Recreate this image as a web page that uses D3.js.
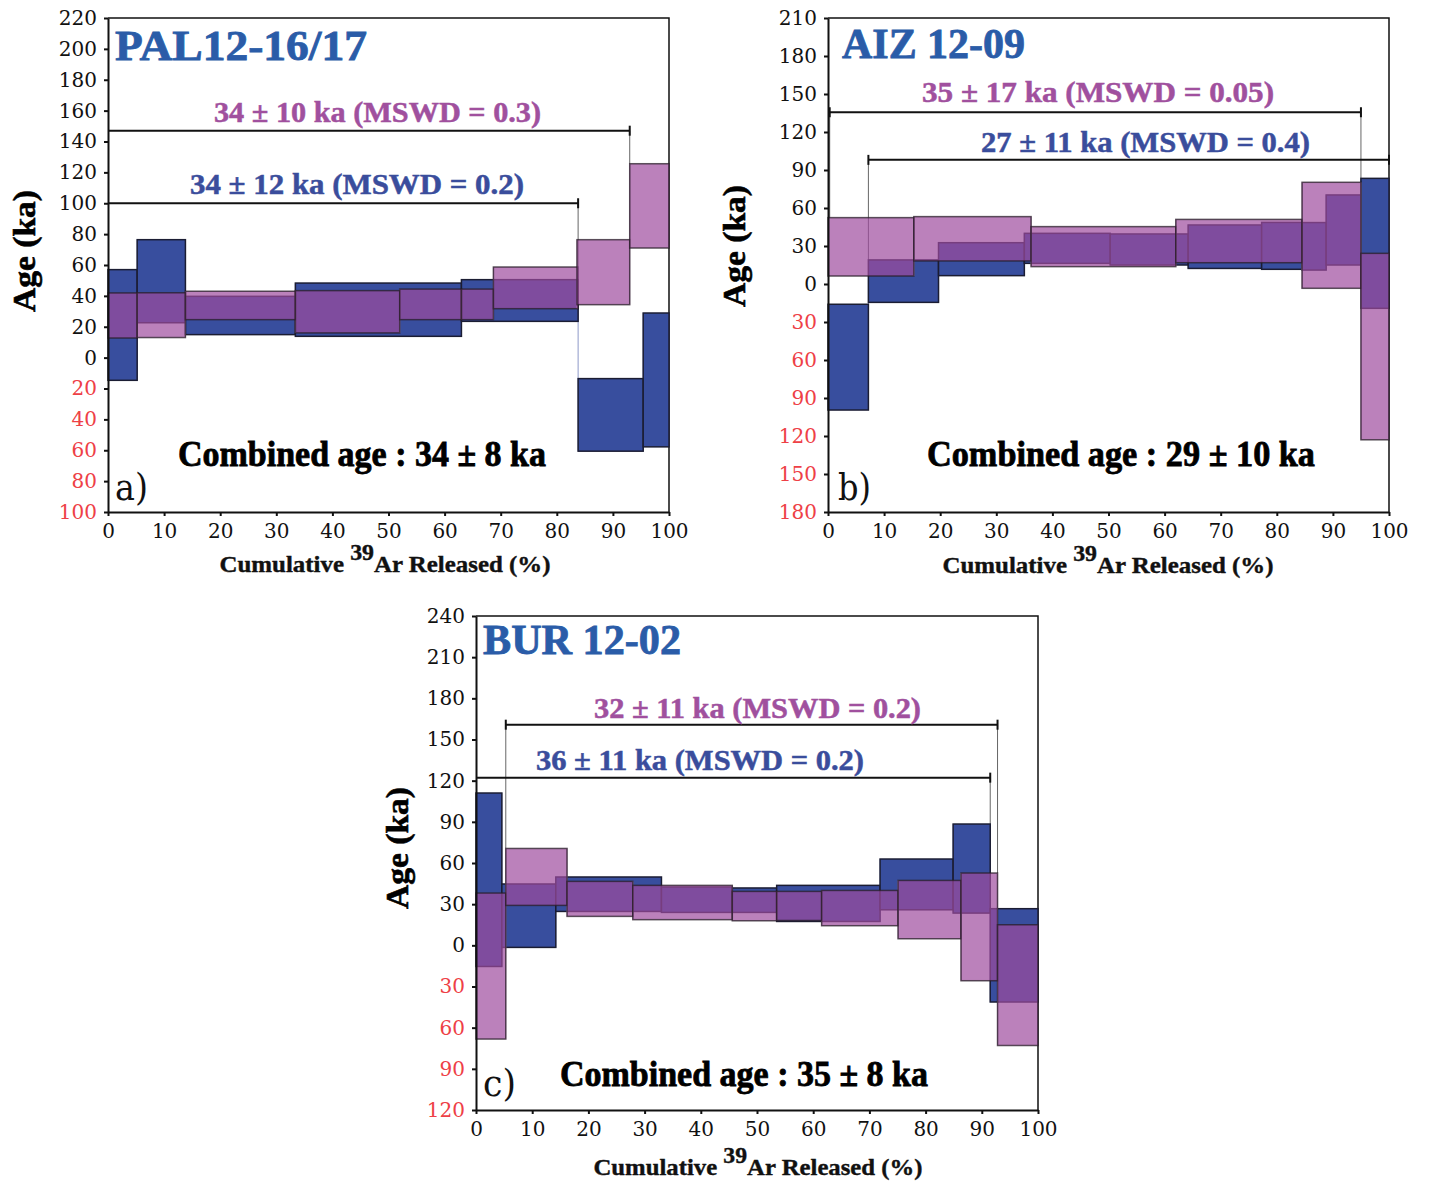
<!DOCTYPE html>
<html>
<head>
<meta charset="utf-8">
<script src="https://cdn.jsdelivr.net/npm/d3@7/dist/d3.min.js"></script>
<style>
body { margin: 0; background: #fff; }
</style>
</head>
<body>
<svg id="chart" width="1430" height="1181"></svg>
<script>
// ---- data ----
// steps: [cumStart %, cumEnd %, age low (ka), age high (ka)]
var xTicks = [0, 10, 20, 30, 40, 50, 60, 70, 80, 90, 100];

var yTicksA = [-100, -80, -60, -40, -20, 0, 20, 40, 60, 80, 100, 120, 140, 160, 180, 200, 220];
var yTicksB = [-180, -150, -120, -90, -60, -30, 0, 30, 60, 90, 120, 150, 180, 210];
var yTicksC = [-120, -90, -60, -30, 0, 30, 60, 90, 120, 150, 180, 210, 240];

var blueA = [
    [0, 5.2, -14.7, 57],
    [5.2, 13.8, 22.6, 76.4],
    [13.8, 33.4, 14.9, 39.7],
    [33.4, 63, 13.8, 48.3],
    [63, 83.8, 23.5, 50.5],
    [83.8, 95.4, -60.6, -13.6],
    [95.4, 100, -57.8, 28.9]
];
var pinkA = [
    [0, 5.2, 12.7, 41.9],
    [5.2, 13.8, 13, 42],
    [13.8, 33.4, 24.6, 43],
    [33.4, 52, 16, 43.4],
    [52, 63, 24.6, 44.4],
    [63, 68.7, 24.6, 44.4],
    [68.7, 83.8, 31.7, 58.7],
    [83.6, 93, 34.3, 76.4],
    [93, 100, 71, 125.6]
];

var blueB = [
    [0, 7.2, -99.5, -16],
    [7.2, 19.7, -14.5, 19],
    [19.7, 35, 6.6, 32.6],
    [35, 50.3, 16.3, 40],
    [50.3, 64.2, 15, 39.5],
    [64.2, 77.3, 12.3, 46.6],
    [77.3, 84.5, 11.6, 48.6],
    [84.5, 88.8, 11, 48.5],
    [88.8, 95, 15, 70.3],
    [95, 100, -19.2, 83.4]
];
var pinkB = [
    [0, 15.3, 6.3, 52.4],
    [15.3, 36.2, 18.2, 53.2],
    [36.2, 62, 13.7, 45.3],
    [62, 84.5, 16.8, 51],
    [84.5, 95, -3.4, 80.3],
    [95, 100, -123, 24.2]
];

var blueC = [
    [0, 4.6, -15.4, 111],
    [4.6, 14.2, -1.5, 44.7],
    [14.2, 33, 24.7, 49.8],
    [33, 45.6, 24, 42.5],
    [45.6, 53.5, 24, 41.8],
    [53.5, 71.9, 17.4, 43.7],
    [71.9, 84.9, 25.9, 62.9],
    [84.9, 91.5, 23.5, 88.4],
    [91.5, 100, -41.3, 26.7]
];
var pinkC = [
    [0, 5.3, -68.3, 38.1],
    [5.3, 16.2, 29.1, 70.6],
    [16.2, 27.9, 21.1, 46.6],
    [27.9, 45.6, 18.7, 43.7],
    [45.6, 53.5, 17.9, 39.3],
    [53.5, 61.5, 18.1, 39.3],
    [61.5, 75.1, 14.3, 40],
    [75.1, 86.3, 4.8, 47.3],
    [86.3, 92.8, -25.8, 52.7],
    [92.8, 100, -73, 15]
];

// plateaus: [start %, end %, level drawn at (ka)]
var plateauBlueA = [0, 83.8, 100];
var plateauPinkA = [0, 93, 147];
var plateauBlueB = [7.2, 100, 98];
var plateauPinkB = [0.3, 95, 135.6];
var plateauBlueC = [0, 91.5, 122.2];
var plateauPinkC = [5.3, 92.8, 160.8];

var titles = ["PAL12-16/17", "AIZ 12-09", "BUR 12-02"];
var pinkLabels = ["34 \u00b1 10 ka (MSWD = 0.3)", "35 \u00b1 17  ka (MSWD = 0.05)", "32 \u00b1 11 ka (MSWD = 0.2)"];
var blueLabels = ["34 \u00b1 12  ka (MSWD = 0.2)", "27 \u00b1 11 ka (MSWD = 0.4)", "36 \u00b1 11 ka (MSWD = 0.2)"];
var combinedLabels = ["Combined age : 34 \u00b1 8 ka", "Combined age : 29 \u00b1 10 ka", "Combined age : 35 \u00b1 8 ka"];
var panelTags = ["a)", "b)", "c)"];

// ---- layout ----
var conf = {
    blueFill: "#384e9e",
    pinkFill: "#9e4c9e",
    pinkOpacity: 0.7,
    titleColor: "#2a5ca8",
    pinkText: "#a0509e",
    blueText: "#3a4d9c",
    negColor: "#ee4046",
    serif: "'DejaVu Serif', serif",
    boldSerif: "'Liberation Serif', 'Times New Roman', serif"
};

// box: [left, top, right, bottom] of the plot frame; text spots in page pixels
var panels = [
    {
        box: [108, 18, 669, 512], yDomain: [-100, 220], yTicks: yTicksA,
        blue: blueA, pink: pinkA, pBlue: plateauBlueA, pPink: plateauPinkA,
        title: [115, 60, 252], pinkLab: [214, 122, 327], blueLab: [190, 194, 334],
        combined: [178, 466, 368], tag: [115, 500], ylab: [35, 251], xlab: [385, 572, 331]
    },
    {
        box: [828, 18, 1389, 512], yDomain: [-180, 210], yTicks: yTicksB,
        blue: blueB, pink: pinkB, pBlue: plateauBlueB, pPink: plateauPinkB,
        title: [842, 58, 183], pinkLab: [922, 102, 352], blueLab: [981, 152, 329],
        combined: [927, 466, 388], tag: [838, 500], ylab: [745, 246], xlab: [1108, 573, 331]
    },
    {
        box: [476, 616, 1038, 1110], yDomain: [-120, 240], yTicks: yTicksC,
        blue: blueC, pink: pinkC, pBlue: plateauBlueC, pPink: plateauPinkC,
        title: [483, 654, 198], pinkLab: [594, 718, 327], blueLab: [536, 770, 328],
        combined: [560, 1086, 368], tag: [483, 1096], ylab: [408, 848], xlab: [758, 1175, 329]
    }
];

var svg = d3.select("#chart");

// tallest top among the same-series steps touching a cumulative position
var dropTo = function (steps, pos) {
    var tops = steps.filter(function (d) {
        return Math.abs(d[0] - pos) < 0.5 || Math.abs(d[1] - pos) < 0.5;
    }).map(function (d) { return d[3]; });
    return tops.length ? d3.max(tops) : undefined;
};

var drawSteps = function (g, x, y, steps, fill, opacity, stroke, linkColor) {
    // thin connectors between consecutive steps (mostly hidden by the boxes)
    for (var i = 1; i < steps.length; i++) {
        var a = steps[i - 1], b = steps[i];
        g.append("line")
            .attr("x1", x(b[0])).attr("x2", x(b[0]))
            .attr("y1", y(Math.max(a[3], b[3])))
            .attr("y2", y(Math.min(a[2], b[2])))
            .attr("stroke", linkColor)
            .attr("stroke-width", 1);
    }
    g.append("g").selectAll("rect").data(steps).join("rect")
        .attr("x", function (d) { return x(d[0]); })
        .attr("width", function (d) { return x(d[1]) - x(d[0]); })
        .attr("y", function (d) { return y(d[3]); })
        .attr("height", function (d) { return y(d[2]) - y(d[3]); })
        .attr("fill", fill)
        .attr("fill-opacity", opacity)
        .attr("stroke", stroke)
        .attr("stroke-width", 1.5);
};

var drawPlateau = function (g, x, y, pl, steps) {
    var ly = y(pl[2]);
    [pl[0], pl[1]].forEach(function (pos) {
        if (pos <= 0.01 || pos >= 99.99) { return; }
        var top = dropTo(steps, pos);
        if (top === undefined) { return; }
        g.append("line")
            .attr("x1", x(pos)).attr("x2", x(pos))
            .attr("y1", ly).attr("y2", y(top))
            .attr("stroke", "#666")
            .attr("stroke-width", 1);
    });
    g.append("line")
        .attr("x1", x(pl[0])).attr("x2", x(pl[1]))
        .attr("y1", ly).attr("y2", ly)
        .attr("stroke", "#111")
        .attr("stroke-width", 2);
    [pl[0], pl[1]].forEach(function (pos) {
        if (pos <= 0.01) { return; }
        g.append("line")
            .attr("x1", x(pos)).attr("x2", x(pos))
            .attr("y1", ly - 5).attr("y2", ly + 5)
            .attr("stroke", "#111")
            .attr("stroke-width", 2);
    });
};

// bold labels get a hairline of their own colour to look as heavy as the original
var addText = function (parent, spot, str, size, color, family, weight, heavy) {
    var t = parent.append("text")
        .attr("x", spot[0])
        .attr("y", spot[1])
        .attr("font-family", family)
        .attr("font-size", size)
        .attr("font-weight", weight)
        .attr("fill", color)
        .text(str);
    if (heavy) {
        t.attr("stroke", color).attr("stroke-width", heavy);
    }
    if (spot[2]) {
        t.attr("textLength", spot[2]).attr("lengthAdjust", "spacingAndGlyphs");
    }
    return t;
};

panels.forEach(function (p, i) {
    var b = p.box;
    var x = d3.scaleLinear().domain([0, 100]).range([b[0], b[2]]);
    var y = d3.scaleLinear().domain(p.yDomain).range([b[3], b[1]]);
    var g = svg.append("g");

    // frame top / right
    g.append("path")
        .attr("d", "M" + b[0] + "," + b[1] + "H" + b[2] + "V" + b[3])
        .attr("fill", "none")
        .attr("stroke", "#111")
        .attr("stroke-width", 1.5);

    // plateau lines and their drop lines sit under the boxes
    drawPlateau(g, x, y, p.pPink, p.pink);
    drawPlateau(g, x, y, p.pBlue, p.blue);

    drawSteps(g, x, y, p.blue, conf.blueFill, 1, "#1b1d33", "#8d98c8");
    drawSteps(g, x, y, p.pink, conf.pinkFill, conf.pinkOpacity, "rgba(40,30,40,0.75)", "#c9a3c9");

    // axes
    var yAxis = d3.axisLeft(y)
        .tickValues(p.yTicks)
        .tickSize(4)
        .tickSizeOuter(0)
        .tickPadding(7)
        .tickFormat(function (d) { return Math.abs(d); });
    var ya = g.append("g")
        .attr("transform", "translate(" + b[0] + ",0)")
        .call(yAxis);
    ya.select(".domain").attr("stroke", "#111").attr("stroke-width", 2);
    ya.selectAll(".tick line").attr("stroke", "#111").attr("stroke-width", 2);
    ya.selectAll(".tick text")
        .attr("font-family", conf.serif)
        .attr("font-size", 20)
        .attr("fill", function (d) { return d < 0 ? conf.negColor : "#111"; });

    var xAxis = d3.axisBottom(x)
        .tickValues(xTicks)
        .tickSize(4)
        .tickSizeOuter(0)
        .tickPadding(8);
    var xa = g.append("g")
        .attr("transform", "translate(0," + b[3] + ")")
        .call(xAxis);
    xa.select(".domain").attr("stroke", "#111").attr("stroke-width", 2);
    xa.selectAll(".tick line").attr("stroke", "#111").attr("stroke-width", 2);
    xa.selectAll(".tick text")
        .attr("font-family", conf.serif)
        .attr("font-size", 20)
        .attr("fill", "#111");

    // texts
    addText(g, p.title, titles[i], 42, conf.titleColor, conf.boldSerif, "bold", 0.8);
    addText(g, p.pinkLab, pinkLabels[i], 29, conf.pinkText, conf.boldSerif, "bold", 0.5);
    addText(g, p.blueLab, blueLabels[i], 29, conf.blueText, conf.boldSerif, "bold", 0.5);
    addText(g, p.combined, combinedLabels[i], 36, "#000", conf.boldSerif, "bold", 0.8);
    addText(g, [p.tag[0], p.tag[1], 33], panelTags[i], 38, "#111", conf.serif, "normal");

    g.append("text")
        .attr("transform", "translate(" + p.ylab[0] + "," + p.ylab[1] + ") rotate(-90)")
        .attr("text-anchor", "middle")
        .attr("font-family", conf.boldSerif)
        .attr("font-size", 32)
        .attr("font-weight", "bold")
        .attr("fill", "#000")
        .attr("stroke", "#000")
        .attr("stroke-width", 0.6)
        .attr("textLength", 122)
        .attr("lengthAdjust", "spacingAndGlyphs")
        .text("Age (ka)");

    var xl = g.append("text")
        .attr("x", p.xlab[0])
        .attr("y", p.xlab[1])
        .attr("text-anchor", "middle")
        .attr("font-family", conf.boldSerif)
        .attr("font-size", 24)
        .attr("font-weight", "bold")
        .attr("fill", "#111")
        .attr("stroke", "#111")
        .attr("stroke-width", 0.4)
        .attr("textLength", p.xlab[2])
        .attr("lengthAdjust", "spacingAndGlyphs");
    xl.append("tspan").text("Cumulative ");
    xl.append("tspan").attr("dy", -12).attr("font-size", 23).text("39");
    xl.append("tspan").attr("dy", 12).text("Ar Released (%)");
});
</script>
</body>
</html>
